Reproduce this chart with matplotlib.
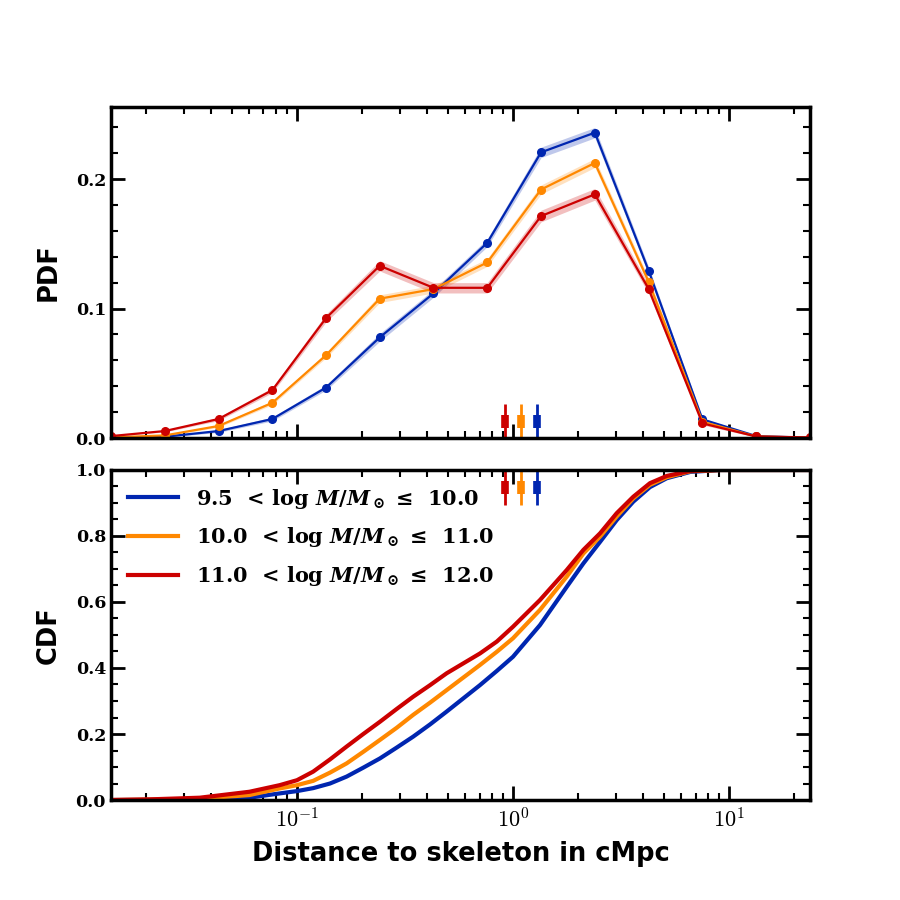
import numpy as np
import matplotlib.pyplot as plt
from matplotlib.ticker import MultipleLocator, FormatStrFormatter, FixedLocator, FixedFormatter

plt.rcParams['font.family'] = 'DejaVu Serif'
plt.rcParams['font.weight'] = 'bold'
plt.rcParams['mathtext.fontset'] = 'cm'
# bold serif math for the legend labels
plt.rcParams['mathtext.rm'] = 'DejaVu Serif:bold'
plt.rcParams['mathtext.it'] = 'DejaVu Serif:italic:bold'
plt.rcParams['mathtext.bf'] = 'DejaVu Serif:bold'

# bin centres (log10 of distance, cMpc) used for the PDF
pdf_logx = [-1.861, -1.612, -1.363, -1.114, -0.865, -0.617, -0.368,
            -0.119, 0.130, 0.379, 0.628, 0.877, 1.126, 1.375]

pdf_low = [0.0003, 0.001, 0.0054, 0.0147, 0.039, 0.0777, 0.1117,
           0.1508, 0.2206, 0.2358, 0.1292, 0.0144, 0.0015, 0.0002]
pdf_mid = [0.0005, 0.002, 0.0093, 0.0272, 0.064, 0.1076, 0.115,
           0.1356, 0.1919, 0.2124, 0.1207, 0.0126, 0.0012, 0.0003]
pdf_high = [0.0015, 0.0054, 0.0147, 0.037, 0.0927, 0.133, 0.116,
            0.116, 0.1714, 0.1882, 0.1151, 0.0113, 0.0012, 0.0005]

err_low = [0.0002, 0.0005, 0.001, 0.0015, 0.002, 0.003, 0.003,
           0.003, 0.004, 0.004, 0.003, 0.001, 0.0005, 0.0002]
err_mid = [0.0002, 0.0005, 0.001, 0.0015, 0.002, 0.003, 0.003,
           0.003, 0.0035, 0.0035, 0.003, 0.001, 0.0005, 0.0002]
err_high = [0.0003, 0.0007, 0.0013, 0.002, 0.003, 0.004, 0.004,
            0.004, 0.0045, 0.0045, 0.0035, 0.0012, 0.0006, 0.0003]

# cumulative distributions
cdf_logx = [-1.861, -1.68, -1.45, -1.22, -1.08, -1.00, -0.925, -0.847,
            -0.77, -0.693, -0.616, -0.538, -0.462, -0.384, -0.307, -0.23,
            -0.153, -0.075, 0.0, 0.125, 0.249, 0.326, 0.403, 0.48,
            0.557, 0.634, 0.712, 0.82, 0.96, 1.375]
cdf_low = [0.0, 0.0005, 0.002, 0.007, 0.020, 0.027, 0.036, 0.050,
           0.071, 0.098, 0.126, 0.159, 0.192, 0.229, 0.268, 0.308,
           0.348, 0.391, 0.434, 0.530, 0.646, 0.717, 0.782, 0.848,
           0.904, 0.948, 0.975, 0.994, 1.0, 1.0]
cdf_mid = [0.0, 0.001, 0.004, 0.015, 0.035, 0.045, 0.058, 0.083,
           0.111, 0.146, 0.182, 0.219, 0.258, 0.295, 0.333, 0.371,
           0.409, 0.449, 0.490, 0.576, 0.677, 0.747, 0.798, 0.859,
           0.914, 0.955, 0.978, 0.996, 1.0, 1.0]
cdf_high = [0.0, 0.002, 0.007, 0.025, 0.045, 0.060, 0.086, 0.123,
            0.162, 0.200, 0.237, 0.276, 0.313, 0.348, 0.384, 0.414,
            0.444, 0.480, 0.525, 0.606, 0.697, 0.758, 0.808, 0.869,
            0.919, 0.960, 0.982, 0.997, 1.0, 1.0]

# medians of each mass bin
medians = [1.29, 1.089, 0.918]

labels = [r'9.5  < log $M/M_\odot$ ≤  10.0',
          r'10.0  < log $M/M_\odot$ ≤  11.0',
          r'11.0  < log $M/M_\odot$ ≤  12.0']
colors = ['#0026b0', '#ff8800', '#cc0000']

xticks = [0.1, 1, 10]
xticklabels = [r'$\mathrm{10^{-1}}$', r'$\mathrm{10^{0}}$', r'$\mathrm{10^{1}}$']

pdfs = [pdf_low, pdf_mid, pdf_high]
errs = [err_low, err_mid, err_high]
cdfs = [cdf_low, cdf_mid, cdf_high]

x_pdf = 10 ** np.array(pdf_logx)
x_cdf = 10 ** np.array(cdf_logx)

fig = plt.figure(figsize=(9, 9), dpi=100)
ax1 = fig.add_axes([0.1233, 0.5133, 0.7767, 0.3678])
ax2 = fig.add_axes([0.1233, 0.1111, 0.7767, 0.3667])

for i in range(3):
    y = np.array(pdfs[i])
    e = np.array(errs[i])
    ax1.fill_between(x_pdf, y - e, y + e, color=colors[i], alpha=0.25, lw=0)
    ax1.plot(x_pdf, y, '-o', color=colors[i], lw=1.6, ms=5.5)
    ax2.plot(x_cdf, cdfs[i], '-', color=colors[i], lw=3, label=labels[i])

# median markers at the bottom of the PDF and top of the CDF
for m, c in zip(medians, colors):
    ax1.plot([m, m], [0.003, 0.103], color=c, lw=2,
             transform=ax1.get_xaxis_transform(), solid_capstyle='butt')
    ax1.plot([m, m], [0.03, 0.07], color=c, lw=5.5,
             transform=ax1.get_xaxis_transform(), solid_capstyle='butt')
    ax2.plot([m, m], [0.894, 0.997], color=c, lw=2,
             transform=ax2.get_xaxis_transform(), solid_capstyle='butt')
    ax2.plot([m, m], [0.927, 0.967], color=c, lw=5.5,
             transform=ax2.get_xaxis_transform(), solid_capstyle='butt')

for ax in (ax1, ax2):
    ax.set_xscale('log')
    ax.set_xlim(x_pdf[0], x_pdf[-1])
    ax.xaxis.set_major_locator(FixedLocator(xticks))
    ax.xaxis.set_major_formatter(FixedFormatter(xticklabels))
    ax.tick_params(which='both', direction='in', top=True, right=True)
    ax.tick_params(which='major', length=10, width=2, labelsize=16)
    ax.tick_params(which='minor', length=5, width=1.5)
    ax.tick_params(axis='x', pad=6)
    ax.tick_params(axis='y', labelsize=12.5)
    ax.yaxis.set_major_formatter(FormatStrFormatter('%.1f'))
    for s in ax.spines.values():
        s.set_linewidth(2.5)

ax1.set_ylim(0, 0.2556)
ax1.yaxis.set_major_locator(MultipleLocator(0.1))
ax1.yaxis.set_minor_locator(MultipleLocator(0.02))
ax1.tick_params(labelbottom=False)

ax2.set_ylim(0, 1.0)
ax2.yaxis.set_major_locator(MultipleLocator(0.2))
ax2.yaxis.set_minor_locator(MultipleLocator(0.05))

lab = dict(fontsize=18.5, fontweight='bold', family='DejaVu Sans')
ax1.set_ylabel('PDF', **lab)
ax2.set_ylabel('CDF', **lab)
ax1.yaxis.set_label_coords(-0.07, 0.5)
ax2.yaxis.set_label_coords(-0.07, 0.5)
ax2.set_xlabel('Distance to skeleton in cMpc', labelpad=6, **lab)

leg = ax2.legend(loc='upper left', frameon=False, fontsize=15, handlelength=2.4,
                 handletextpad=0.9, borderaxespad=0.4, labelspacing=0.7)
for t in leg.get_texts():
    t.set_math_fontfamily('custom')

plt.savefig('out.png', dpi=100)
